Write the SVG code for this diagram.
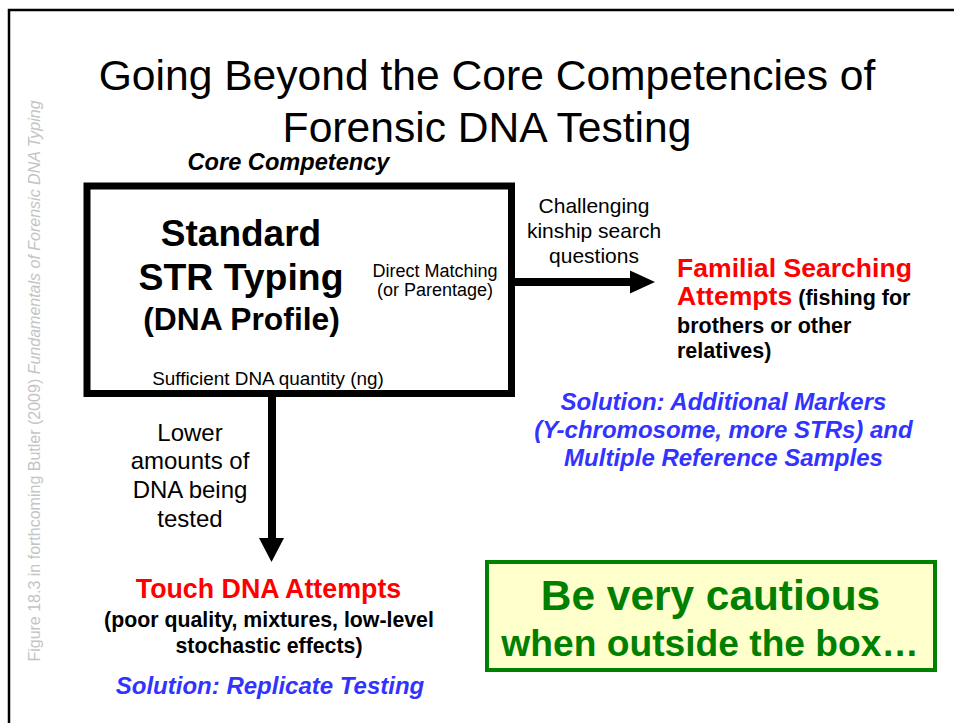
<svg xmlns="http://www.w3.org/2000/svg" width="954" height="723" viewBox="0 0 954 723">
<style>
text{font-family:"Liberation Sans",Arial,sans-serif;}
.c{text-anchor:middle;}
.b{font-weight:bold;}
.i{font-style:italic;}
.red{fill:#FF0000;}
.blue{fill:#3333FF;}
.green{fill:#008000;}
.blk{fill:#000;}
</style>
<rect x="0" y="0" width="954" height="723" fill="#fff"/>
<g id="frame"><path d="M9,723 V10 H954" fill="none" stroke="#000" stroke-width="2.5"/></g>
<g id="side-note"><text transform="translate(40,381) rotate(-90)" class="c" font-size="16" fill="#c4c4c4">Figure 18.3 in forthcoming Butler (2009) <tspan font-style="italic">Fundamentals of Forensic DNA Typing</tspan></text></g>
<g id="title">
<text class="c" x="487" y="90" font-size="42.6">Going Beyond the Core Competencies of</text>
<text class="c" x="487" y="142" font-size="42.6">Forensic DNA Testing</text>
</g>
<g id="core-label"><text class="c b i" x="288.5" y="170" font-size="23.6">Core Competency</text></g>
<g id="core-box">
<rect x="87" y="186" width="424.5" height="207.5" fill="#fff" stroke="#000" stroke-width="7"/>
<text class="c b" x="241" y="246" font-size="37">Standard</text>
<text class="c b" x="241" y="290" font-size="37.4">STR Typing</text>
<text class="c b" x="241.5" y="330" font-size="31.8">(DNA Profile)</text>
<text class="c" x="435" y="277" font-size="18">Direct Matching</text>
<text class="c" x="435" y="296" font-size="18">(or Parentage)</text>
<text class="c" x="268" y="385" font-size="18.9">Sufficient DNA quantity (ng)</text>
</g>
<g id="connectors">
<line x1="515" y1="282" x2="632" y2="282" stroke="#000" stroke-width="8"/>
<polygon points="630,270.5 655,282 630,293.5" fill="#000"/>
<line x1="272" y1="397" x2="272" y2="540" stroke="#000" stroke-width="8"/>
<polygon points="259,538 284,538 271.5,562" fill="#000"/>
<text class="c" x="594" y="213" font-size="21">Challenging</text>
<text class="c" x="594" y="238" font-size="21">kinship search</text>
<text class="c" x="594" y="263" font-size="21">questions</text>
<text class="c" x="190" y="441" font-size="24">Lower</text>
<text class="c" x="190" y="469" font-size="24">amounts of</text>
<text class="c" x="190" y="498" font-size="24">DNA being</text>
<text class="c" x="190" y="527" font-size="24">tested</text>
</g>
<g id="familial">
<text class="b red" x="677" y="277" font-size="26.6">Familial Searching</text>
<text class="b" x="677" y="305"><tspan class="red" font-size="26.6">Attempts</tspan><tspan class="blk" font-size="21.5"> (fishing for</tspan></text>
<text class="b blk" x="677" y="333" font-size="21.5">brothers or other</text>
<text class="b blk" x="677" y="358" font-size="21.5">relatives)</text>
<text class="c b i blue" x="723.5" y="410" font-size="24">Solution: Additional Markers</text>
<text class="c b i blue" x="723.5" y="438" font-size="24">(Y-chromosome, more STRs) and</text>
<text class="c b i blue" x="723.5" y="466" font-size="24">Multiple Reference Samples</text>
</g>
<g id="touch">
<text class="c b red" x="268.5" y="598" font-size="26.8">Touch DNA Attempts</text>
<text class="c b blk" x="269" y="627" font-size="21.3">(poor quality, mixtures, low-level</text>
<text class="c b blk" x="269" y="653" font-size="21.3">stochastic effects)</text>
<text class="c b i blue" x="270" y="694" font-size="24">Solution: Replicate Testing</text>
</g>
<g id="caution">
<rect x="487" y="562" width="448" height="108" fill="#FFFFCC" stroke="#008000" stroke-width="4"/>
<text class="c b green" x="710.5" y="610" font-size="42.4">Be very cautious</text>
<text class="c b green" x="710" y="656" font-size="37.2">when outside the box…</text>
</g>
</svg>
